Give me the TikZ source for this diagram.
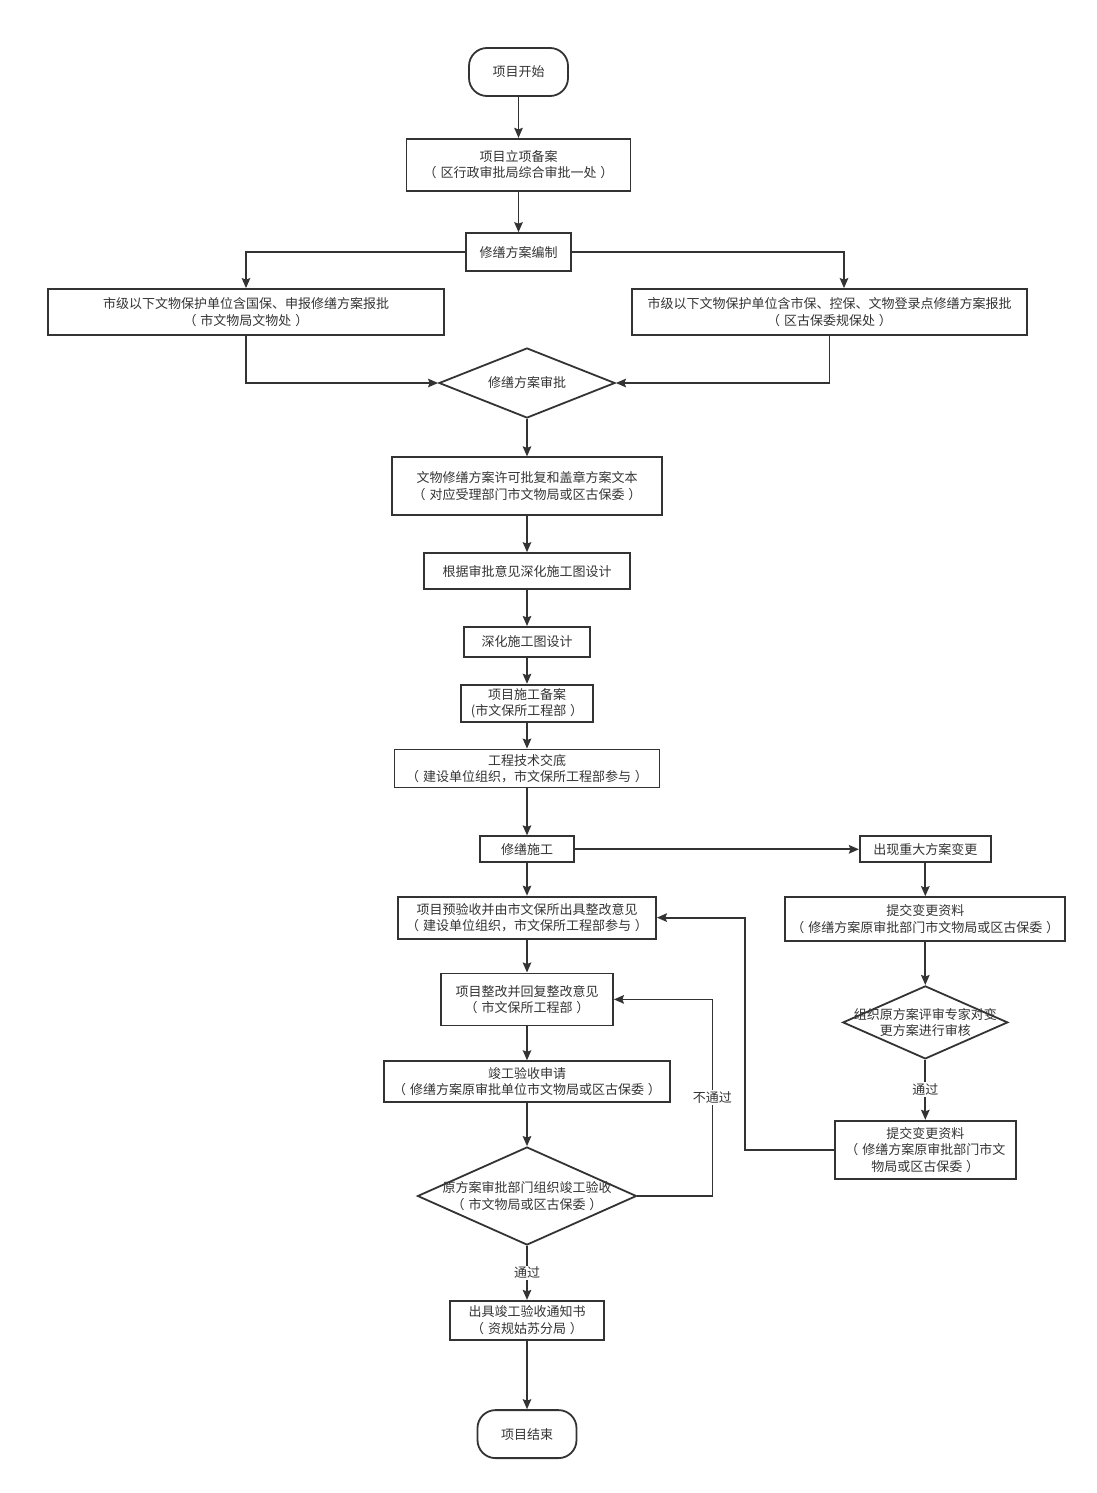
\documentclass[tikz,border=0pt]{standalone}
\usepackage{fontspec}
\setmainfont{Noto Sans CJK SC}
\usetikzlibrary{arrows.meta,positioning,shapes.geometric}
\definecolor{ink}{HTML}{333333}
\newcommand{\openp}{（\hspace{.3em}}
\newcommand{\closep}{\hspace{.3em}）}

\begin{document}
\begin{tikzpicture}
  [x=1pt,y=-1pt,
   font=\fontsize{13pt}{16.5pt}\selectfont,text=ink,
   box/.style={draw=ink,line width=1.8pt,align=center,inner sep=0pt},
   terminal/.style={box,rounded corners=18pt,minimum width=99pt,minimum height=48pt},
   decision/.style={diamond,draw=ink,line width=1.8pt,inner sep=0pt},
   txt/.style={align=center},
   lbl/.style={fill=white,inner sep=1.5pt},
   pre/.style={<-,shorten <=0pt,>={Stealth[length=10pt,width=8.5pt,inset=1.5pt]},draw=ink,line width=1.8pt},
   post/.style={->,shorten >=0pt,>={Stealth[length=10pt,width=8.5pt,inset=1.5pt]},draw=ink,line width=1.8pt}]

  \useasboundingbox (0,0) rectangle (1097,1493);

  % top of the flow
  \node[terminal] (start) at (518.5,72) {项目开始};
  \node[box,minimum width=224pt,minimum height=52pt] (filing) [below=41pt of start]
    {项目立项备案\\\openp 区行政审批局综合审批一处\closep}
    edge [pre] (start);
  \node[box,minimum width=105pt,minimum height=38pt] (plan) [below=40.5pt of filing]
    {修缮方案编制}
    edge [pre] (filing);

  % two ways of reporting the plan
  \node[box,minimum width=396pt,minimum height=46pt] (local) at (246,312)
    {市级以下文物保护单位含国保、申报修缮方案报批\\\openp 市文物局文物处\closep};
  \node[box,minimum width=395pt,minimum height=46pt] (district) at (829.5,312)
    {市级以下文物保护单位含市保、控保、文物登录点修缮方案报批\\\openp 区古保委规保处\closep};
  \node[decision,minimum width=176pt,minimum height=70pt,
        label={[txt]center:{修缮方案审批}}] (approve) at (527,383) {};

  \draw[post] (plan.west) -| (local.north);
  \draw[post] (plan.east) -| ([xshift=14.5pt]district.north);
  \draw[post] (local.south) |- (approve.west);
  \draw[post] (district.south) |- (approve.east);

  % main column
  \node[box,minimum width=270pt,minimum height=58pt] (permit) [below=37.5pt of approve]
    {文物修缮方案许可批复和盖章方案文本\\\openp 对应受理部门市文物局或区古保委\closep}
    edge [pre] (approve);
  \node[box,minimum width=206pt,minimum height=36pt] (deepen) [below=36pt of permit]
    {根据审批意见深化施工图设计}
    edge [pre] (permit);
  \node[box,minimum width=126pt,minimum height=30pt] (drawing) [below=36pt of deepen]
    {深化施工图设计}
    edge [pre] (deepen);
  \node[box,minimum width=132pt,minimum height=37pt] (record) [below=26pt of drawing]
    {项目施工备案\\(市文保所工程部\closep}
    edge [pre] (drawing);
  \node[box,minimum width=265pt,minimum height=38pt] (brief) [below=26pt of record]
    {工程技术交底\\\openp 建设单位组织，市文保所工程部参与\closep}
    edge [pre] (record);
  \node[box,minimum width=94pt,minimum height=26pt] (build) [below=47pt of brief]
    {修缮施工}
    edge [pre] (brief);
  \node[box,minimum width=258pt,minimum height=42pt] (precheck) [below=32.5pt of build]
    {项目预验收并由市文保所出具整改意见\\\openp 建设单位组织，市文保所工程部参与\closep}
    edge [pre] (build);
  \node[box,minimum width=172pt,minimum height=52pt] (rectify) [below=33pt of precheck]
    {项目整改并回复整改意见\\\openp 市文保所工程部\closep}
    edge [pre] (precheck);
  \node[box,minimum width=286pt,minimum height=41pt] (apply) [below=34pt of rectify]
    {竣工验收申请\\\openp 修缮方案原审批单位市文物局或区古保委\closep}
    edge [pre] (rectify);
  \node[decision,minimum width=219pt,minimum height=98pt,
        label={[txt]center:{原方案审批部门组织竣工验收\\\openp 市文物局或区古保委\closep}}]
    (accept) [below=43pt of apply] {}
    edge [pre] (apply);
  \node[box,minimum width=154pt,minimum height=39pt] (notice) [below=54pt of accept]
    {出具竣工验收通知书\\\openp 资规姑苏分局\closep}
    edge [pre] node[lbl] {通过} (accept);
  \node[terminal] (end) [below=68.5pt of notice] {项目结束}
    edge [pre] (notice);

  % plan change branch
  \node[box,minimum width=131pt,minimum height=26pt] (change) [right=284pt of build]
    {出现重大方案变更}
    edge [pre] (build);
  \node[box,minimum width=280pt,minimum height=44pt] (submit) [below=33pt of change]
    {提交变更资料\\\openp 修缮方案原审批部门市文物局或区古保委\closep}
    edge [pre] (change);
  \node[decision,minimum width=165pt,minimum height=73pt,
        label={[txt]center:{组织原方案评审专家对变\\更方案进行审核}}]
    (review) [below=43pt of submit] {}
    edge [pre] (submit);
  \node[box,minimum width=181pt,minimum height=58pt] (resubmit) [below=60pt of review]
    {提交变更资料\\\openp 修缮方案原审批部门市文\\物局或区古保委\closep}
    edge [pre] node[lbl] {通过} (review);

  % loops back
  \draw[post] (resubmit.west) -- ++(-89,0) |- (precheck.east);
  \draw[post] (accept.east) -- ++(75,0) |- node[lbl,pos=0.25] {不通过} (rectify.east);
\end{tikzpicture}
\end{document}
